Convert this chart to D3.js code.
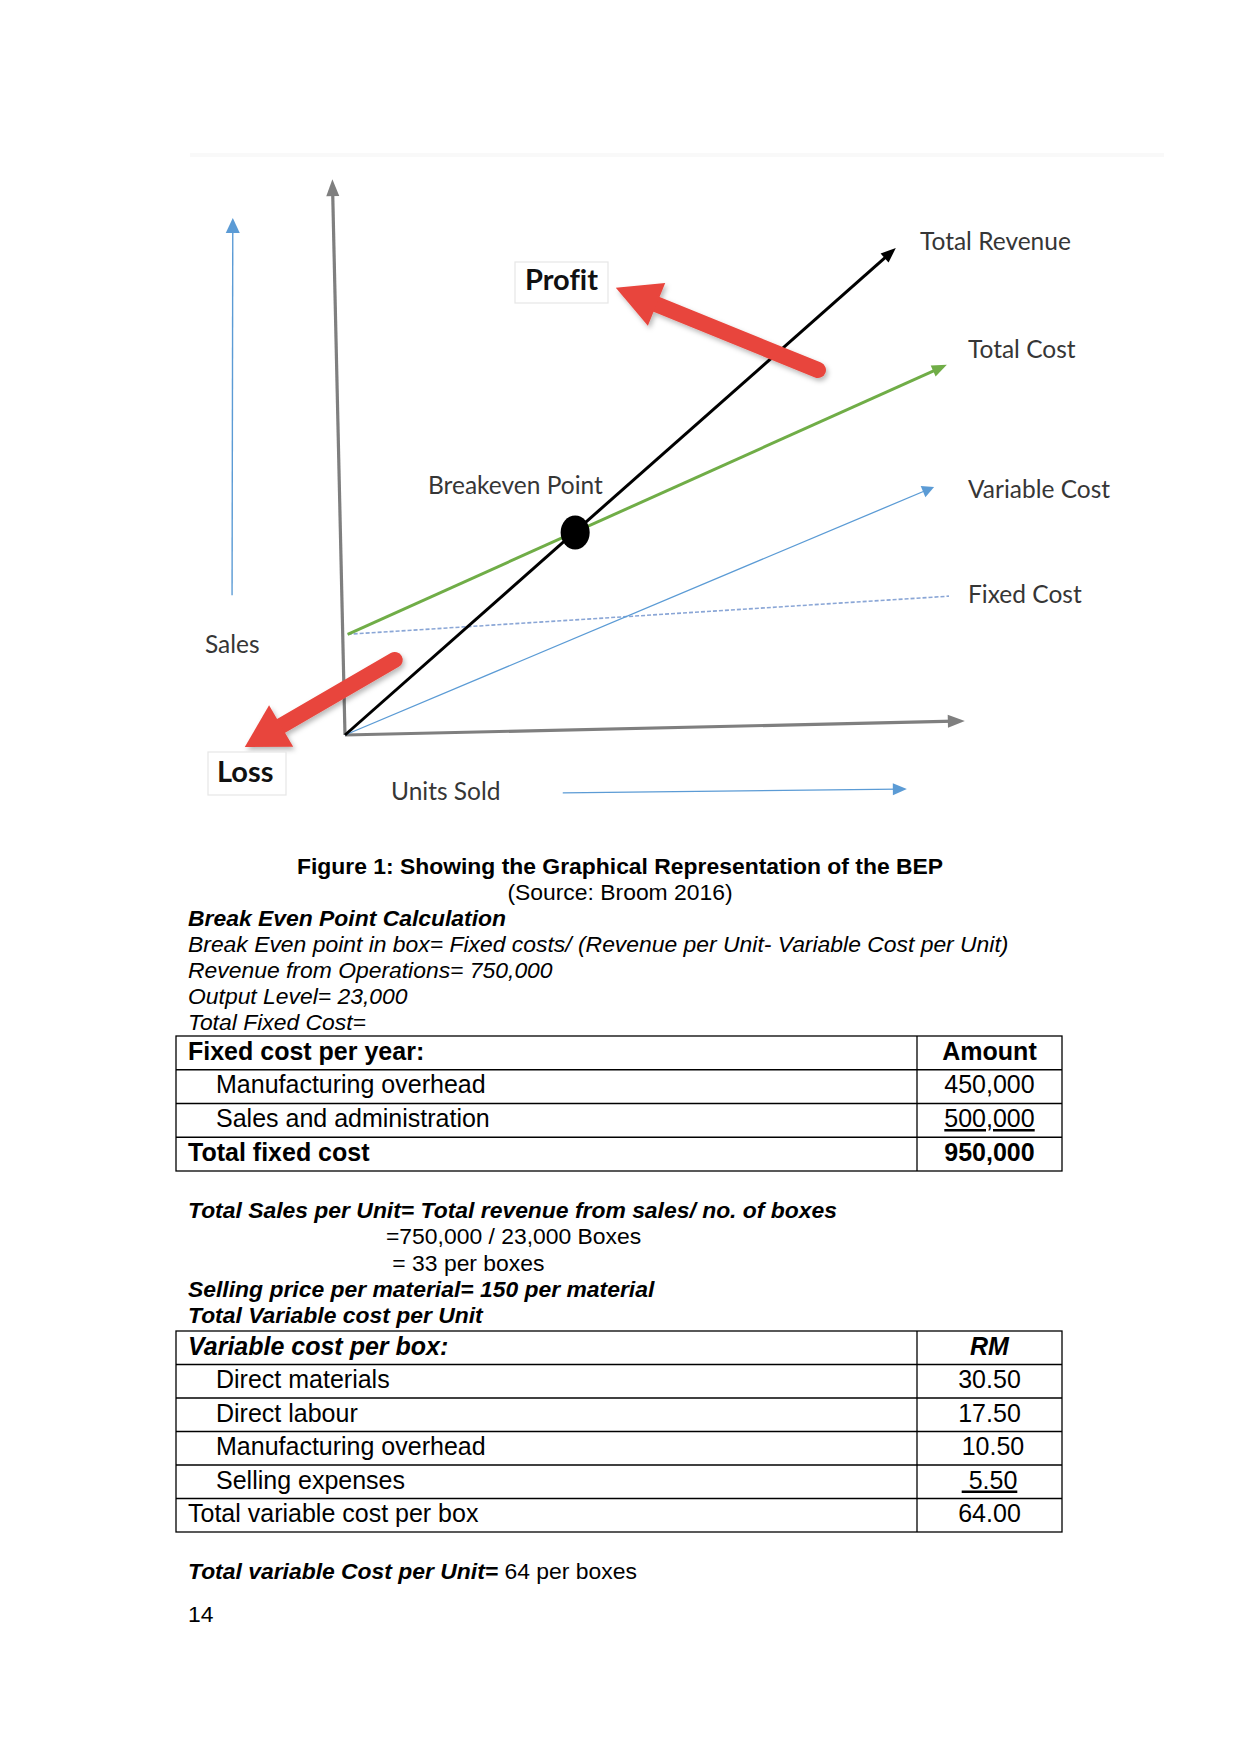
<!DOCTYPE html>
<html>
<head>
<meta charset="utf-8">
<script src="https://cdn.jsdelivr.net/npm/d3@7"></script>
<style>
  html, body { margin: 0; padding: 0; background: #fff; }
  svg { display: block; }
  text { white-space: pre; font-variant-ligatures: none; }
</style>
</head>
<body>
<div id="chart"></div>
<script>
// ---------------- DATA (arbitrary units) ----------------
// x = units sold (0-100), y = money (0-100)
const xAxisLine     = [[0, 0], [100, 0]];
const yAxisLine     = [[0, 0], [0, 100]];
const totalRevenue  = [[0, 0], [90.6, 85.3]];
const totalCost     = [[0.8, 18.1], [98.4, 64.1]];
const variableCost  = [[0, 0], [95.9, 42.2]];
const fixedCost     = [[0.8, 18.1], [97.9, 22.5]];
// direction arrows next to the axes and the profit / loss pointers (same units)
const salesArrow    = [[-17.7, 25.6], [-16.2, 93.4]];
const unitsArrow    = [[34.9, -11.3], [90.4, -12.0]];
const profitArrow   = [[77.6, 63.7], [45.3, 79.3]];
const lossArrow     = [[8.3, 13.3], [-16.2, -1.75]];

const lineNames = ["Total Revenue", "Total Cost", "Variable Cost", "Fixed Cost"];
const otherLabels = ["Breakeven Point", "Sales", "Units Sold"];

// tables
const fixedHeader   = ["Fixed cost per year:", "Amount"];
const fixedItems    = ["Manufacturing overhead", "Sales and administration"];
const fixedAmounts  = ["450,000", "500,000"];
const fixedTotal    = ["Total fixed cost", "950,000"];

const varHeader     = ["Variable cost per box:", "RM"];
const varItems      = ["Direct materials", "Direct labour", "Manufacturing overhead", "Selling expenses"];
const varAmounts    = ["30.50", "17.50", " 10.50", " 5.50"];
const varTotal      = ["Total variable cost per box", "64.00"];

// ---------------- SETUP ----------------
const W = 1241, H = 1754;
const svg = d3.select("#chart").append("svg").attr("width", W).attr("height", H);
svg.append("rect").attr("width", W).attr("height", H).attr("fill", "#fff");

const defs = svg.append("defs");
const sh = defs.append("filter").attr("id", "shadow").attr("x", "-30%").attr("y", "-30%").attr("width", "160%").attr("height", "160%");
sh.append("feDropShadow").attr("dx", 2).attr("dy", 3).attr("stdDeviation", 2.5).attr("flood-color", "#000").attr("flood-opacity", 0.28);

// faint top border of the pasted picture
svg.append("rect").attr("x", 190).attr("y", 153).attr("width", 974).attr("height", 4).attr("fill", "#f9f9f9");

// scales
const xS = d3.scaleLinear().domain([0, 100]).range([0, 620]);
const yS = d3.scaleLinear().domain([0, 100]).range([0, -556]);
const origin = [345, 735];
const ang = -1.3 * Math.PI / 180;   // the picture is slightly rotated
function project(d) {
  const dx = xS(d[0]), dy = yS(d[1]);
  return [origin[0] + dx * Math.cos(ang) - dy * Math.sin(ang),
          origin[1] + dx * Math.sin(ang) + dy * Math.cos(ang)];
}

const g = svg.append("g");

// arrow line with triangular head
function arrowLine(pts, color, width, headL, headW, dash) {
  const a = project(pts[0]), b = project(pts[1]);
  const dx = b[0] - a[0], dy = b[1] - a[1], len = Math.hypot(dx, dy);
  const ux = dx / len, uy = dy / len;
  const end = headL ? [b[0] - ux * headL * 0.6, b[1] - uy * headL * 0.6] : b;
  g.append("path")
    .attr("d", d3.line()([a, end]))
    .attr("stroke", color).attr("stroke-width", width).attr("fill", "none")
    .attr("stroke-dasharray", dash || null);
  if (headL) {
    const base = [b[0] - ux * headL, b[1] - uy * headL];
    const px = -uy, py = ux;
    g.append("path")
      .attr("d", d3.line()([b, [base[0] + px * headW / 2, base[1] + py * headW / 2],
                                [base[0] - px * headW / 2, base[1] - py * headW / 2]]) + "Z")
      .attr("fill", color);
  }
}

// big red pointer
function redArrow(pts, shaftW, headL, headW) {
  const a = project(pts[0]), b = project(pts[1]);
  const dx = b[0] - a[0], dy = b[1] - a[1], len = Math.hypot(dx, dy);
  const ux = dx / len, uy = dy / len, px = -uy, py = ux;
  const base = [b[0] - ux * headL, b[1] - uy * headL];
  const grp = g.append("g").attr("filter", "url(#shadow)");
  grp.append("path")
    .attr("d", d3.line()([a, [base[0] + ux * 4, base[1] + uy * 4]]))
    .attr("stroke", "#e8453c").attr("stroke-width", shaftW).attr("stroke-linecap", "round").attr("fill", "none");
  grp.append("path")
    .attr("d", d3.line()([b, [base[0] + px * headW / 2, base[1] + py * headW / 2],
                              [base[0] - px * headW / 2, base[1] - py * headW / 2]]) + "Z")
    .attr("fill", "#e8453c");
}

// axes direction arrows (blue)
arrowLine(salesArrow, "#5b9bd5", 1.4, 15, 14);
arrowLine(unitsArrow, "#5b9bd5", 1.4, 14, 12);

// chart axes (gray)
arrowLine(yAxisLine, "#7f7f7f", 3.2, 17, 13);
arrowLine(xAxisLine, "#7f7f7f", 3.2, 17, 13);

// cost lines
arrowLine(fixedCost, "#8aa6d6", 1.6, 0, 0, "4,2");
arrowLine(variableCost, "#5b9bd5", 1.3, 12, 12);
arrowLine(totalCost, "#70ad47", 3, 15, 12);
arrowLine(totalRevenue, "#000", 3, 15, 12);

// red pointers
redArrow(profitArrow, 16, 44, 46);
redArrow(lossArrow, 16, 42, 48);

// breakeven point = intersection of total revenue and total cost
function intersect(l1, l2) {
  const [[x1, y1], [x2, y2]] = l1, [[x3, y3], [x4, y4]] = l2;
  const m1 = (y2 - y1) / (x2 - x1), m2 = (y4 - y3) / (x4 - x3);
  const x = (y3 - y1 + m1 * x1 - m2 * x3) / (m1 - m2);
  return [x, y1 + m1 * (x - x1)];
}
const bep = project(intersect(totalRevenue, totalCost));
g.append("ellipse").attr("cx", bep[0] + 1).attr("cy", bep[1]).attr("rx", 14.5).attr("ry", 17).attr("fill", "#000");

// chart labels
const chartFont = "Lato, 'Open Sans', sans-serif";
const labelPos = {
  "Total Revenue": [920, 250], "Total Cost": [968, 358], "Variable Cost": [968, 498],
  "Fixed Cost": [968, 603], "Breakeven Point": [428, 494], "Sales": [205, 653], "Units Sold": [391, 800]
};
lineNames.concat(otherLabels).forEach(t => {
  g.append("text").attr("x", labelPos[t][0]).attr("y", labelPos[t][1])
    .attr("font-family", chartFont).attr("font-size", 24.5).attr("fill", "#363636").text(t);
});
// boxed bold labels
[["Profit", 515, 262, 93, 41, 525, 290], ["Loss", 208, 752, 78, 43, 217, 782]].forEach(d => {
  g.append("rect").attr("x", d[1]).attr("y", d[2]).attr("width", d[3]).attr("height", d[4])
    .attr("fill", "#fff").attr("stroke", "#e6e6e6").attr("stroke-width", 1.2);
  g.append("text").attr("x", d[5]).attr("y", d[6]).attr("font-family", chartFont)
    .attr("font-weight", 700).attr("font-size", 29).attr("fill", "#111").text(d[0]);
});

// ---------------- TEXT BELOW THE FIGURE ----------------
const bodyFont = "'Liberation Sans', Arial, sans-serif";
const FS = 22.9, TFS = 25;
function line(x, y, parts, anchor) {
  const t = svg.append("text").attr("x", x).attr("y", y).attr("font-family", bodyFont)
    .attr("font-size", FS).attr("fill", "#000").attr("text-anchor", anchor || "start");
  parts.forEach(p => {
    t.append("tspan").attr("font-weight", p.b ? 700 : 400).attr("font-style", p.i ? "italic" : "normal").text(p.t);
  });
  return t;
}
line(620, 874, [{t: "Figure 1: Showing the Graphical Representation of the BEP", b: 1}], "middle");
line(620, 900, [{t: "(Source: Broom 2016)"}], "middle");
line(188, 926, [{t: "Break Even Point Calculation", b: 1, i: 1}]);
line(188, 952, [{t: "Break Even point in box= Fixed costs/ (Revenue per Unit- Variable Cost per Unit)", i: 1}]);
line(188, 978, [{t: "Revenue from Operations= 750,000", i: 1}]);
line(188, 1004, [{t: "Output Level= 23,000", i: 1}]);
line(188, 1030, [{t: "Total Fixed Cost=", i: 1}]);

line(188, 1218, [{t: "Total Sales per Unit= Total revenue from sales/ no. of boxes", b: 1, i: 1}]);
line(386, 1244, [{t: "=750,000 / 23,000 Boxes"}]);
line(386, 1271, [{t: " = 33 per boxes"}]);
line(188, 1297, [{t: "Selling price per material= 150 per material", b: 1, i: 1}]);
line(188, 1323, [{t: "Total Variable cost per Unit", b: 1, i: 1}]);

line(188, 1579, [{t: "Total variable Cost per Unit=", b: 1, i: 1}, {t: " 64 per boxes"}]);
line(188, 1622, [{t: "14"}]);

// tables
function table(top, rowH, rows) {
  const x0 = 176, x1 = 917, x2 = 1062;
  const n = rows.length;
  const tg = svg.append("g");
  tg.append("rect").attr("x", x0).attr("y", top).attr("width", x2 - x0).attr("height", rowH * n)
    .attr("fill", "none").attr("stroke", "#000").attr("stroke-width", 1.3);
  tg.append("line").attr("x1", x1).attr("x2", x1).attr("y1", top).attr("y2", top + rowH * n)
    .attr("stroke", "#000").attr("stroke-width", 1.3);
  rows.forEach((r, i) => {
    const y = top + rowH * i;
    if (i > 0) tg.append("line").attr("x1", x0).attr("x2", x2).attr("y1", y).attr("y2", y)
      .attr("stroke", "#000").attr("stroke-width", 1.3);
    const st = r.style || {};
    tg.append("text").attr("x", x0 + (r.indent ? 40 : 12)).attr("y", y + 23.5)
      .attr("font-family", bodyFont).attr("font-size", TFS)
      .attr("font-weight", st.b ? 700 : 400).attr("font-style", st.i ? "italic" : "normal").text(r.label);
    tg.append("text").attr("x", (x1 + x2) / 2).attr("y", y + 23.5).attr("text-anchor", "middle")
      .attr("font-family", bodyFont).attr("font-size", TFS)
      .attr("font-weight", st.b ? 700 : 400).attr("font-style", st.i ? "italic" : "normal")
      .attr("text-decoration", r.u ? "underline" : null).text(r.value);
  });
}
table(1036, 33.75, [
  {label: fixedHeader[0], value: fixedHeader[1], style: {b: 1}},
  ...fixedItems.map((d, i) => ({label: d, value: fixedAmounts[i], indent: 1, u: i === fixedItems.length - 1})),
  {label: fixedTotal[0], value: fixedTotal[1], style: {b: 1}}
]);
table(1331, 33.5, [
  {label: varHeader[0], value: varHeader[1], style: {b: 1, i: 1}},
  ...varItems.map((d, i) => ({label: d, value: varAmounts[i], indent: 1, u: i === varItems.length - 1})),
  {label: varTotal[0], value: varTotal[1]}
]);
</script>
</body>
</html>
